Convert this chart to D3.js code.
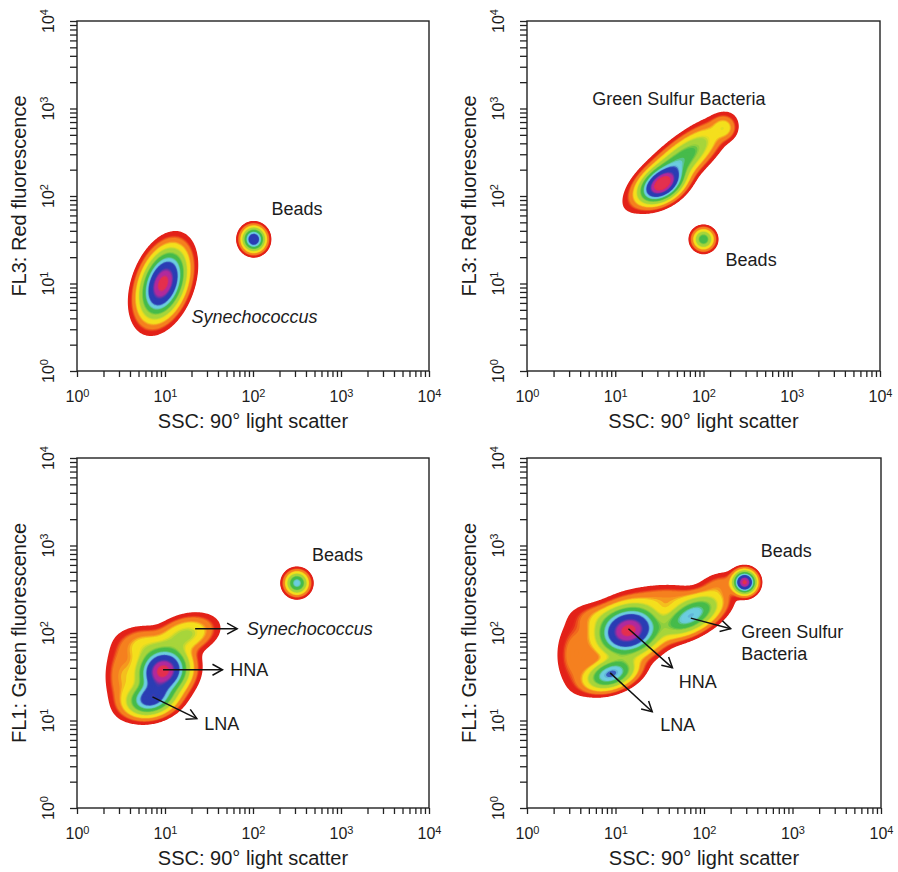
<!DOCTYPE html>
<html>
<head>
<meta charset="utf-8">
<script src="https://cdn.jsdelivr.net/npm/d3@7"></script>
<style>
body { margin: 0; background: #fff; }
text { font-family: "Liberation Sans", Arial, sans-serif; fill: #1c1c1c; }
</style>
</head>
<body>
<div id="chart"></div>
<script>
// axis ticks
const decades = [1, 10, 100, 1000, 10000]
const minorSteps = [1, 2, 3, 4, 5, 6, 7, 8, 9]
const xTitle = "SSC: 90\u00b0 light scatter"
const yTitles = ["FL3: Red fluorescence", "FL3: Red fluorescence", "FL1: Green fluorescence", "FL1: Green fluorescence"]

// populations: centre (ssc, fl), reach of the outer edge in decades, tilt, peak density level (0..1)
const popsRedSyn = [
    {ssc: 9.5, fl: 10, ex: 0.40, ey: 0.60, rho: 0.35, peak: 1.0},
    {ssc: 102, fl: 32, ex: 0.20, ey: 0.21, rho: 0, peak: 0.7}
]
const popsRedGsb = [
    {ssc: 34, fl: 135, ex: 0.38, ey: 0.32, rho: 0.4, peak: 1.0},
    {ssc: 52, fl: 240, ex: 0.62, ey: 0.55, rho: 0.8, peak: 0.5},
    {ssc: 170, fl: 600, ex: 0.15, ey: 0.15, rho: 0, peak: 0.25},
    {ssc: 100, fl: 32, ex: 0.17, ey: 0.17, rho: 0, peak: 0.48}
]
const popsGreenSyn = [
    {ssc: 9.5, fl: 37, ex: 0.45, ey: 0.42, rho: 0.1, peak: 1.0},
    {ssc: 6.9, fl: 17.8, ex: 0.42, ey: 0.30, rho: 0.2, peak: 0.66},
    {ssc: 17, fl: 95, ex: 0.40, ey: 0.26, rho: 0.3, peak: 0.35},
    {ssc: 5.6, fl: 72, ex: 0.30, ey: 0.22, rho: 0, peak: 0.25},
    {ssc: 3.2, fl: 32, ex: 0.18, ey: 0.38, rho: 0, peak: 0.2},
    {ssc: 316, fl: 372, ex: 0.19, ey: 0.19, rho: 0, peak: 0.55}
]
const popsGreenGsb = [
    {ssc: 14, fl: 107, ex: 0.55, ey: 0.45, rho: 0.15, peak: 1.0},
    {ssc: 71, fl: 158, ex: 0.50, ey: 0.35, rho: 0.55, peak: 0.57},
    {ssc: 8.9, fl: 34, ex: 0.42, ey: 0.27, rho: 0.35, peak: 0.6},
    {ssc: 3.5, fl: 56, ex: 0.20, ey: 0.38, rho: 0, peak: 0.18},
    {ssc: 6, fl: 150, ex: 0.25, ey: 0.15, rho: 0, peak: 0.15},
    {ssc: 40, fl: 250, ex: 0.40, ey: 0.15, rho: 0, peak: 0.18},
    {ssc: 150, fl: 355, ex: 0.22, ey: 0.14, rho: 0.3, peak: 0.15},
    {ssc: 288, fl: 380, ex: 0.20, ey: 0.20, rho: 0, peak: 0.92}
]

// annotations
const labelsRedSyn = [
    {text: "Beads", ssc: 162, fl: 71, italic: false},
    {text: "Synechococcus", ssc: 20, fl: 4.2, italic: true}
]
const labelsRedGsb = [
    {text: "Green Sulfur Bacteria", ssc: 5.5, fl: 1290, italic: false},
    {text: "Beads", ssc: 178, fl: 18.6, italic: false}
]
const labelsGreenSyn = [
    {text: "Beads", ssc: 468, fl: 794, italic: false},
    {text: "Synechococcus", ssc: 85, fl: 112, italic: true},
    {text: "HNA", ssc: 55, fl: 38, italic: false},
    {text: "LNA", ssc: 28, fl: 9.3, italic: false}
]
const labelsGreenGsb = [
    {text: "Beads", ssc: 437, fl: 871, italic: false},
    {text: "Green Sulfur", ssc: 263, fl: 105, italic: false},
    {text: "Bacteria", ssc: 263, fl: 59, italic: false},
    {text: "HNA", ssc: 52, fl: 28, italic: false},
    {text: "LNA", ssc: 32, fl: 9.1, italic: false}
]
const arrowsGreenSyn = [
    {from: [22, 112], to: [66, 112]},
    {from: [9.5, 38], to: [45, 38]},
    {from: [7.2, 18.6], to: [23, 10.5]}
]
const arrowsGreenGsb = [
    {from: [14, 112], to: [44, 40]},
    {from: [8.7, 35], to: [26, 12.6]},
    {from: [71, 148], to: [200, 112]}
]

// density colour bands: where each band starts (edge 0 .. peak 1) and its colour
const bandStarts = [0, 0.13, 0.23, 0.33, 0.43, 0.52, 0.59, 0.76, 0.87]
const bandColors = ["#e32219", "#f5801f", "#f4df1d", "#a7d53b", "#46bb4b", "#6ccde0", "#2b3db4", "#b22a9c", "#e4304e"]

const panels = [
    {left: 77, top: 21, width: 352, pops: popsRedSyn, labels: labelsRedSyn, arrows: [], yTitle: yTitles[0]},
    {left: 527, top: 21, width: 353, pops: popsRedGsb, labels: labelsRedGsb, arrows: [], yTitle: yTitles[1]},
    {left: 77, top: 458, width: 352, pops: popsGreenSyn, labels: labelsGreenSyn, arrows: arrowsGreenSyn, yTitle: yTitles[2]},
    {left: 527, top: 458, width: 354, pops: popsGreenGsb, labels: labelsGreenGsb, arrows: arrowsGreenGsb, yTitle: yTitles[3]}
]
const plotHeight = 350

let allTicks = []
decades.slice(0, 4).forEach(d => minorSteps.forEach(s => allTicks.push(d * s)))
allTicks.push(10000)

// stepped colours with a soft blend into the next band
function color(t) {
    let k = d3.bisectRight(bandStarts, t) - 1
    if (k >= bandStarts.length - 1) return bandColors[bandColors.length - 1]
    const f = (t - bandStarts[k]) / (bandStarts[k + 1] - bandStarts[k])
    if (f < 0.6) return bandColors[k]
    return d3.interpolateRgb(bandColors[k], bandColors[k + 1])((f - 0.6) / 0.4)
}

const N = 320
const nLevels = 60
const levels = d3.range(nLevels).map(k => k / nLevels)
const thresholds = levels.map(t => Math.exp(-Math.pow(3 * (1 - t), 2) / 2))

function densityGrid(pops) {
    const comps = pops.map(p => {
        const w = Math.exp(-Math.pow(3 * (1 - p.peak), 2) / 2)
        const re = 3 * Math.sqrt(1 - Math.pow(1 - p.peak, 2))
        return {cx: Math.log10(p.ssc), cy: Math.log10(p.fl), sx: p.ex / re, sy: p.ey / re, rho: p.rho, w: w}
    })
    const values = new Float64Array(N * N)
    for (let j = 0; j < N; j++) {
        const ly = (j + 0.5) * 4 / N
        for (let i = 0; i < N; i++) {
            const lx = (i + 0.5) * 4 / N
            let v = 0
            comps.forEach(c => {
                const dx = (lx - c.cx) / c.sx
                const dy = (ly - c.cy) / c.sy
                const q = (dx * dx - 2 * c.rho * dx * dy + dy * dy) / (1 - c.rho * c.rho)
                if (q < 40) v += c.w * Math.exp(-q / 2)
            })
            values[i + j * N] = v
        }
    }
    return values
}

const svg = d3.select("#chart").append("svg")
    .attr("width", 898)
    .attr("height", 872)

const defs = svg.append("defs")
defs.append("marker")
    .attr("id", "arrowhead")
    .attr("viewBox", "-12 -7 14 14")
    .attr("markerWidth", 14)
    .attr("markerHeight", 14)
    .attr("markerUnits", "userSpaceOnUse")
    .attr("refX", 0)
    .attr("refY", 0)
    .attr("orient", "auto")
    .append("path")
    .attr("d", "M-10,-5.5L0,0L-10,5.5")
    .attr("fill", "none")
    .attr("stroke", "#111")
    .attr("stroke-width", 1.5)

panels.forEach((p, idx) => {
    const g = svg.append("g").attr("transform", `translate(${p.left},${p.top})`)

    const x = d3.scaleLog().domain([1, 10000]).range([0, p.width])
    const y = d3.scaleLog().domain([1, 10000]).range([plotHeight, 0])

    defs.append("clipPath").attr("id", "clip" + idx)
        .append("rect").attr("width", p.width).attr("height", plotHeight)

    // density contours
    const values = densityGrid(p.pops)
    const bands = d3.contours().size([N, N]).thresholds(thresholds)(values)
    const proj = d3.geoTransform({
        point: function (px, py) {
            this.stream.point(x(Math.pow(10, px * 4 / N)), y(Math.pow(10, py * 4 / N)))
        }
    })
    const path = d3.geoPath(proj)
    g.append("g").attr("clip-path", `url(#clip${idx})`)
        .selectAll("path")
        .data(bands)
        .join("path")
        .attr("d", path)
        .attr("fill", (d, i) => color(levels[i]))

    // axes
    const xAxis = d3.axisBottom(x).tickValues(allTicks).tickSize(6).tickSizeOuter(0).tickPadding(14)
        .tickFormat(d => decades.includes(d) ? "10" : "")
    const gx = g.append("g").attr("transform", `translate(0,${plotHeight})`).call(xAxis)
    gx.selectAll(".tick text").attr("font-size", 16).attr("font-family", null)
    gx.selectAll(".tick text").filter(d => decades.includes(d))
        .append("tspan").attr("dy", "-0.5em").attr("font-size", 11)
        .text(d => Math.round(Math.log10(d)))

    const yAxis = d3.axisLeft(y).tickValues(allTicks).tickSize(7).tickSizeOuter(0).tickFormat("")
    const gy = g.append("g").call(yAxis)
    ;[gx, gy].forEach(a => {
        a.select(".domain").remove()
        a.selectAll(".tick line").attr("stroke", "#222").attr("stroke-width", 1.3)
    })

    const yLab = g.append("g").selectAll("text")
        .data(decades)
        .join("text")
        .attr("transform", d => `translate(-29,${y(d)}) rotate(-90)`)
        .attr("text-anchor", "middle")
        .attr("dy", "0.36em")
        .attr("font-size", 16)
        .text("10")
    yLab.append("tspan").attr("dy", "-0.5em").attr("font-size", 11)
        .text(d => Math.round(Math.log10(d)))

    // frame
    g.append("rect")
        .attr("width", p.width)
        .attr("height", plotHeight)
        .attr("fill", "none")
        .attr("stroke", "#222")
        .attr("stroke-width", 1.4)

    // titles
    g.append("text")
        .attr("x", p.width / 2)
        .attr("y", plotHeight + 57)
        .attr("text-anchor", "middle")
        .attr("font-size", 20)
        .text(xTitle)
    g.append("text")
        .attr("transform", `translate(-51,${plotHeight / 2}) rotate(-90)`)
        .attr("text-anchor", "middle")
        .attr("font-size", 20)
        .text(p.yTitle)

    // arrows
    g.selectAll(".arrow")
        .data(p.arrows)
        .join("line")
        .attr("class", "arrow")
        .attr("x1", d => x(d.from[0]))
        .attr("y1", d => y(d.from[1]))
        .attr("x2", d => x(d.to[0]))
        .attr("y2", d => y(d.to[1]))
        .attr("stroke", "#111")
        .attr("stroke-width", 1.5)
        .attr("marker-end", "url(#arrowhead)")

    // labels
    g.selectAll(".label")
        .data(p.labels)
        .join("text")
        .attr("class", "label")
        .attr("x", d => x(d.ssc))
        .attr("y", d => y(d.fl))
        .attr("dy", "0.36em")
        .attr("font-size", 18)
        .attr("font-style", d => d.italic ? "italic" : null)
        .text(d => d.text)
})
</script>
</body>
</html>
